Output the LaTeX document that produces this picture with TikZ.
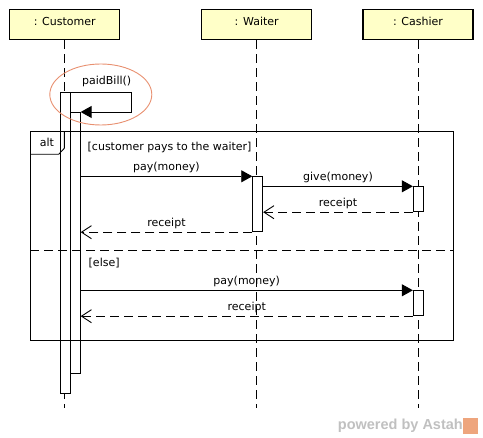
\documentclass[tikz,border=0pt]{standalone}
\usepackage{fontspec}
\setmainfont{DejaVu Sans}
\newfontfamily\wmfont{Liberation Sans}
\usetikzlibrary{arrows.meta}
\definecolor{headfill}{RGB}{255,255,200}
\definecolor{notecol}{RGB}{232,144,112}
\definecolor{wmgray}{RGB}{192,192,192}
\definecolor{wmorange}{RGB}{238,165,125}
\tikzset{
  head/.style={draw, line width=1.4pt, fill=headfill, minimum width=110pt, minimum height=30pt,
    inner sep=0pt, text height=8pt, text depth=6pt, font=\fontsize{11}{13}\selectfont},
  lifeline/.style={line width=0.9pt, dash pattern=on 9pt off 5pt},
  actbar/.style={draw, line width=0.9pt, fill=white, minimum width=10pt, inner sep=0pt},
  msg/.style={line width=0.9pt, -{Triangle[length=11pt,width=12pt]}},
  ret/.style={line width=0.9pt, dash pattern=on 9pt off 5pt, -{Straight Barb[length=10pt,width=13pt]}},
  lbl/.style={font=\fontsize{11}{13}\selectfont, inner sep=0pt, text height=8pt, text depth=2.5pt},
  frameline/.style={line width=0.9pt},
}
\begin{document}
\begin{tikzpicture}[x=1pt,y=-1pt]
\useasboundingbox (0,0) rectangle (483,438);
% heads
\node[head] (cust) at (64.7,24.7) {: Customer};
\node[head] (wait) at (256.7,24.7) {: Waiter};
\node[head] (cash) at (418,24.7) {: Cashier};
% lifeline ends
\coordinate (custEnd) at (cust.south |- 0,408);
\coordinate (waitEnd) at (wait.south |- 0,408);
\coordinate (cashEnd) at (cash.south |- 0,408);
\draw[lifeline] (cust.south) -- (custEnd);
\draw[lifeline] (wait.south) -- (waitEnd);
\draw[lifeline] (cash.south) -- (cashEnd);
% activation bars
\node[actbar, minimum height=300.7pt, anchor=north] (cuA) at (65.5,92.5) {};
\node[actbar, minimum height=261pt, anchor=north] (cuB) at (75.2,112) {};
\node[actbar, minimum height=55pt, anchor=north] (wa) at (257.7,176.3) {};
\node[actbar, minimum height=25pt, anchor=north] (ca1) at (418.3,186.3) {};
\node[actbar, minimum height=25pt, anchor=north] (ca2) at (418.3,290.3) {};
% self message
\coordinate (selfR) at (131,92.5);
\draw[msg] (cuA.north east) -- (selfR) |- (cuB.north east);
\node[lbl] (paidlbl) at (106.7,81.7) {paidBill()};
% alt frame
\node[draw, frameline, minimum width=423pt, minimum height=209pt, inner sep=0pt, anchor=north west] (alt) at (30.3,131.2) {};
\coordinate (tabA) at (64.3,131.2);
\coordinate (tabB) at (64.3,148.3);
\coordinate (tabC) at (58.7,154.3);
\coordinate (tabD) at (30.3,154.3);
\draw[frameline] (tabA) -- (tabB) -- (tabC) -- (tabD);
\node[lbl] (altlbl) at (47,143.3) {alt};
\node[lbl, anchor=west] (guard1) at (87.5,147.7) {[customer pays to the waiter]};
\coordinate (sepL) at (alt.west |- 0,250);
\coordinate (sepR) at (alt.east |- 0,250);
\draw[frameline, dash pattern=on 9pt off 5pt] (sepL) -- (sepR);
\node[lbl, anchor=west] (guard2) at (88.5,264.2) {[else]};
% messages
\draw[msg] (cuB.east |- wa.north) -- (wa.north west)
  node[lbl, midway, above=2.5pt] {pay(money)};
\draw[msg] (wa.east |- ca1.north) -- (ca1.north west)
  node[lbl, midway, above=2.5pt] {give(money)};
\draw[ret] (ca1.south west) -- (wa.east |- ca1.south)
  node[lbl, midway, above=2.8pt] {receipt};
\draw[ret] (wa.south west) -- (cuB.east |- wa.south)
  node[lbl, midway, above=2.8pt] {receipt};
\draw[msg] (cuB.east |- ca2.north) -- (ca2.north west)
  node[lbl, midway, above=2.5pt] {pay(money)};
\draw[ret] (ca2.south west) -- (cuB.east |- ca2.south)
  node[lbl, midway, above=2.8pt] {receipt};
% note ellipse
\draw[notecol, line width=0.9pt] (100.8,94.5) ellipse [x radius=51pt, y radius=30.5pt];
% watermark
\node[font=\wmfont\bfseries\fontsize{14.5}{16}\selectfont, text=wmgray, anchor=east, inner sep=0pt] (wm) at (463,426) {powered by Astah};
\node[fill=wmorange, minimum width=15pt, minimum height=16pt, inner sep=0pt, anchor=west] (wmlogo) at (463,426) {};
\end{tikzpicture}
\end{document}
